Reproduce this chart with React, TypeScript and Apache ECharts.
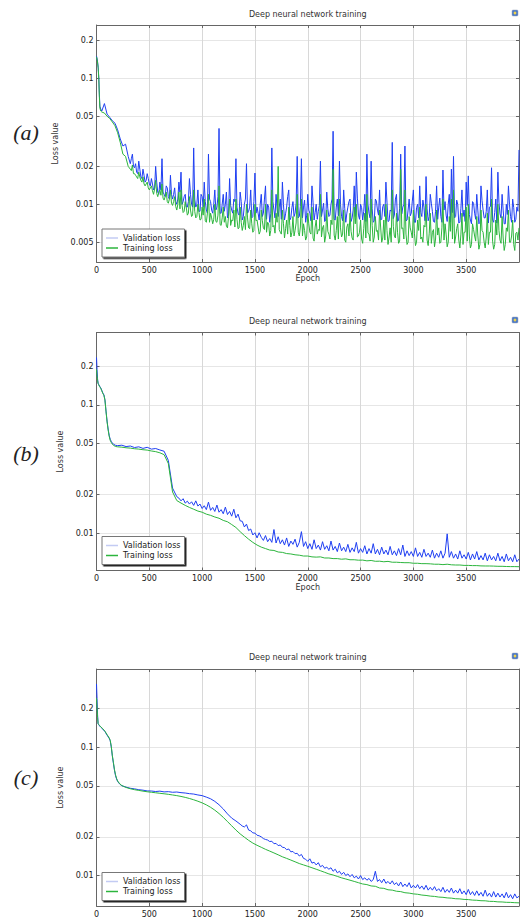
import { useEffect, useRef } from "react";
import * as echarts from "echarts";

// ---------- data (loss values are in units of 1e-3) ----------
const TITLE = "Deep neural network training";
const PANEL_LABELS = ["(a)", "(b)", "(c)"];
const SERIES_NAMES = ["Validation loss", "Training loss"];
const X_MAX = 4000;
const X_INTERVAL = 500;
const Y_TICKS_A = [0.2, 0.1, 0.05, 0.02, 0.01, 0.005];
const Y_TICKS_BC = [0.2, 0.1, 0.05, 0.02, 0.01];

// Panel (a): head epochs, then 50..300 every 25, then 320..4000 every 20,
// plus in-between readings at 330..3990 every 20
const aHeadEpochs = [0, 8, 16, 22, 27, 32, 40];
const aValHead = [150, 140, 122, 100, 75, 60, 57];
const aTrainHead = [148, 138, 120, 98, 72, 58, 55];
const aValEarly = [55, 63, 52, 49, 46, 44, 39, 33, 29, 30, 24];
const aTrainEarly = [54, 53, 50, 48, 45, 42, 37, 31, 25, 24, 20];
const aValLate = [
  21, 25, 19.5, 18, 22, 16.5, 19, 15, 17.5, 14.5,
  16, 13, 20, 12.5, 15, 23, 12, 14, 11.5, 17,
  11, 13.5, 10, 15, 18, 10.5, 12, 9.5, 16, 10,
  28, 9.5, 13, 8.8, 11.5, 15, 9, 25, 10.5, 8.5,
  13, 9.5, 40, 8.5, 12, 10, 7.8, 16, 9, 11,
  23, 8.5, 12.5, 7.5, 10, 21, 8.8, 13, 8, 17.7,
  9.5, 7.5, 12, 8.5, 14, 10, 7.2, 28, 9, 12,
  8, 11, 15, 7.5, 9.5, 13, 7.8, 10.5, 8.5, 24,
  8, 23, 9.5, 7.2, 12, 8.5, 14, 7.5, 10, 8.8,
  22, 9, 7.3, 12.5, 8, 10, 38, 7.5, 11, 22,
  8, 13, 7.2, 9.5, 11, 7.8, 14, 18, 8.2, 10,
  7.5, 12, 25, 8.5, 22, 7.2, 11, 9, 13, 7.6,
  10, 15, 7.3, 9, 31, 8.2, 12, 7.5, 25, 9.5,
  29, 7.5, 11, 8.5, 13, 7.2, 10, 14, 8, 9.5,
  16.6, 7.4, 12, 8.8, 7.2, 14, 9.5, 8, 18.7, 10.5,
  7.3, 12, 19, 24, 8, 10, 7.2, 13, 9, 15,
  16.8, 7.5, 10.5, 8.5, 12, 7, 14, 9, 7.8, 13,
  9.5, 19.5, 7.2, 11, 18, 8.4, 12, 7, 10, 14,
  8, 11, 7.2, 9.5, 27,
];
const aValMid = [
  23, 20, 21, 17.5, 19, 16, 17, 15.5, 16, 14,
  14.5, 13.5, 15, 12, 13, 12.5, 11.5, 13.5, 11, 12,
  12, 10.5, 11, 12.5, 10, 11.5, 9.5, 10.5, 12, 9.5,
  11, 10, 8.8, 12, 9.5, 10.5, 8.5, 11, 9, 10,
  9, 11.5, 8.5, 10, 8.8, 12.5, 8.2, 9.8, 8.5, 10.5,
  9.5, 8.2, 10.5, 8, 11, 8.5, 9.5, 7.8, 10.5, 8.5,
  8.5, 10, 8, 11, 7.6, 9.5, 8.4, 10.5, 7.8, 9.2,
  9.5, 7.6, 10, 8.4, 11.5, 7.5, 9.4, 8, 10.2, 7.8,
  9.6, 7.8, 10.8, 8.2, 9, 7.4, 10.4, 8.6, 7.6, 9.8,
  8, 10.2, 7.5, 9.2, 8.2, 11, 7.6, 9.5, 8.1, 10,
  7.4, 9.3, 8.5, 10.5, 7.3, 9, 8, 11.2, 7.6, 9.4,
  8.8, 7.3, 10, 7.8, 9.2, 7.4, 10.6, 8.2, 7.5, 9.6,
  8, 10.4, 7.4, 8.8, 7.7, 11, 7.3, 9.3, 8.4, 10,
  7.4, 9, 8.1, 10.6, 7.2, 9.4, 7.8, 8.6, 10.8, 7.4,
  9.2, 8, 10.2, 7.3, 8.8, 7.6, 11.2, 7.2, 9, 8.2,
  10, 7.2, 8.6, 7.8, 10.8, 7.1, 9.3, 8, 7.3, 9.8,
  8.3, 7, 10.2, 7.6, 9, 7.2, 10.7, 7.8, 8.8, 7.1,
  9.6, 7.5, 8.6, 7.1, 10.4, 7.8, 9, 7, 8.3, 10,
  7.2, 9.4, 7.6, 8.8,
];
const aTrainLate = [
  19, 20.5, 17.5, 16.5, 18, 15.5, 16.5, 14, 15, 13,
  14, 12, 15.5, 11.5, 13, 14.5, 10.8, 12.5, 10.2, 13,
  9.8, 11.5, 9, 12.5, 13, 8.6, 10.5, 8.2, 11.5, 8,
  13, 7.8, 10, 7.5, 9.5, 11, 7.2, 12, 8.5, 7,
  10, 7.2, 14, 6.8, 9.5, 8, 6.5, 11, 7.5, 9,
  11, 6.4, 9.5, 6.2, 8, 10, 6.5, 9, 6, 10,
  7.5, 5.8, 9, 6.5, 10, 7.2, 5.6, 13, 6.8, 8.5,
  20, 6, 9, 5.4, 7.5, 9.5, 5.5, 8, 6.2, 12,
  5.6, 11, 7, 5.2, 8.5, 6, 9.5, 5.1, 7.5, 6.3,
  12, 6.5, 5, 9, 5.8, 7.5, 19, 5.2, 8, 11,
  5.5, 9, 5, 7, 8.5, 5.4, 9.5, 10, 5.6, 7.5,
  4.9, 8.5, 12, 5.8, 11, 5, 8, 6.2, 9, 5,
  7.5, 10, 4.8, 6.5, 13, 5.6, 8.5, 4.9, 19, 6.5,
  13, 4.8, 8, 6, 9, 4.7, 7.5, 9.5, 5.5, 6.8,
  10, 4.7, 8.5, 6, 4.6, 9, 6.5, 5, 11, 7,
  4.6, 8, 11, 13, 5.5, 7, 4.5, 8.5, 6, 9.5,
  10, 4.5, 7, 5.6, 8, 4.4, 9, 6, 4.5, 8.5,
  6, 11, 4.4, 7.5, 10, 5.2, 8, 4.3, 6.5, 9,
  5, 7.5, 4.3, 6, 6.5,
];
const aTrainMid = [
  18.5, 17.5, 17, 16, 16.5, 15, 14.5, 14.5, 13.5, 13.5,
  12.8, 13.2, 12.2, 12.5, 11.8, 11.2, 11.5, 10.5, 11, 10.2,
  10.5, 9.6, 10, 9.2, 9.8, 8.8, 9.4, 8.5, 9, 8.2,
  8.8, 8, 8.6, 7.6, 8.2, 7.4, 8.5, 7.2, 7.8, 7.6,
  7.3, 8.2, 6.9, 7.8, 7.2, 6.7, 8, 6.8, 7.4, 6.6,
  7.6, 6.5, 7.2, 6.8, 6.3, 7.8, 6.4, 7, 6.2, 7.4,
  6.6, 6.1, 7.4, 6.3, 6, 7, 6.2, 6.6, 5.9, 7.2,
  6.3, 5.8, 7, 6.4, 5.8, 6.8, 6, 5.6, 7.1, 6,
  6.6, 5.6, 6.2, 5.5, 7, 5.8, 5.4, 6.6, 5.8, 6.2,
  5.5, 6.8, 5.6, 6.1, 5.3, 6.9, 5.7, 6.2, 5.3, 6.5,
  5.8, 5.2, 6.6, 5.6, 6.1, 5.2, 7, 5.5, 6, 5.3,
  6.4, 5.4, 5.9, 5.1, 6.8, 5.5, 6.1, 5.2, 6.6, 5.4,
  5.2, 6.2, 5.5, 5, 6.7, 5.4, 6, 5.1, 6.4, 5.3,
  5.8, 5, 6.5, 5.4, 5.9, 5, 6.2, 5.3, 5, 6.6,
  5.2, 5.9, 4.9, 6.3, 5.3, 5.7, 4.9, 6.5, 5.2, 5.8,
  5, 6.1, 5.3, 4.9, 6.4, 5.2, 5.8, 4.8, 6, 5.1,
  5.6, 4.8, 6.3, 5.1, 5.7, 4.8, 6.2, 5, 5.5, 4.8,
  6, 5.1, 4.8, 5.7, 6.2, 4.9, 5.4, 4.8, 6.1, 5,
  5.6, 4.8, 5.9, 5.2,
];

// Panel (b): head epochs, then 200..760 every 40, then 780..4000 every 20 (validation);
// training 200..4000 every 40
const bHeadEpochs = [0, 5, 10, 15, 20, 30, 40, 50, 60, 70, 80, 90, 100, 110, 120, 130, 140, 150, 160, 180];
const bValHead = [235, 190, 160, 148, 145, 140, 136, 130, 124, 120, 110, 90, 75, 65, 58, 54, 52, 50.5, 49.5, 48.5];
const bTrainHead = [190, 170, 155, 147, 144, 139, 135, 129, 123, 119, 109, 89, 74, 64, 57, 53, 51, 49.5, 48.5, 47.5];
const bValEarly = [48.2, 48.6, 47.4, 47.9, 46.6, 47.2, 45.9, 46.8, 45.3, 45.8, 44.6, 43.6, 37, 22.5, 19.3];
const bValLate = [
  18.8, 17.9, 18.6, 17.2, 17.8, 16.9, 17.6, 16.5, 17.9, 16.3,
  16.9, 15.6, 16.4, 15.3, 17.5, 15.1, 15.9, 14.8, 16.6, 14.6,
  15.3, 14.2, 16, 14, 14.8, 13.6, 15.4, 13.2, 14.1, 12.5,
  12.4, 11.2, 11.8, 10.5, 10.8, 9.7, 10.1, 9.2, 10.1, 9.3,
  8.8, 9.6, 8.6, 9.1, 8.5, 10.7, 8.4, 9.4, 8.3, 8.9,
  8.1, 9.2, 7.9, 8.7, 8.2, 9, 7.8, 8.5, 10.3, 7.9,
  8.6, 7.6, 8.3, 7.5, 8.9, 7.6, 8.1, 7.4, 8.6, 7.5,
  8, 7.3, 8.7, 7.4, 7.9, 7.2, 8.4, 7.3, 7.8, 7.2,
  8.2, 7.1, 7.7, 7.2, 8.5, 7, 7.6, 7.1, 8, 6.9,
  7.6, 7, 8.3, 6.9, 7.5, 6.8, 7.8, 6.9, 7.4, 6.8,
  7.9, 6.8, 7.3, 6.7, 7.6, 6.8, 8.1, 6.6, 7.3, 6.7,
  7.2, 6.6, 7.7, 6.6, 7.1, 6.5, 7.5, 6.6, 7, 6.5,
  7.4, 6.4, 7, 6.5, 7.3, 6.4, 7, 9.9, 6.5, 7.2,
  6.4, 6.9, 6.3, 7.3, 6.4, 6.8, 6.3, 7.1, 6.2, 6.9,
  6.3, 7.2, 6.2, 6.7, 6.2, 7, 6.1, 6.8, 6.2, 6.6,
  6.1, 7, 6.1, 6.6, 6, 6.9, 6.1, 6.5, 6, 6.8,
  6, 6.3,
];
const bTrainBody = [
  47.2, 46.9, 46.4, 46.1, 45.6, 45.3, 44.8, 44.5,
  43.8, 43.3, 42.4, 41, 35, 21, 18, 17.2,
  16.5, 15.9, 15.4, 14.9, 14.6, 14.1, 13.8, 13.4,
  13.1, 12.6, 12.3, 11.7, 11.1, 10.3, 9.6, 9,
  8.5, 8.1, 7.8, 7.6, 7.4, 7.35, 7.15, 7.1,
  6.95, 6.9, 6.8, 6.75, 6.65, 6.65, 6.55, 6.52,
  6.55, 6.42, 6.42, 6.35, 6.35, 6.28, 6.32, 6.22,
  6.22, 6.17, 6.18, 6.1, 6.14, 6.05, 6.06, 6,
  6.04, 5.95, 5.95, 5.92, 5.9, 5.9, 5.84, 5.84,
  5.8, 5.8, 5.78, 5.74, 5.74, 5.7, 5.74, 5.68,
  5.66, 5.66, 5.62, 5.62, 5.6, 5.6, 5.57, 5.56,
  5.56, 5.55, 5.53, 5.53, 5.51, 5.5, 5.5, 5.49,
];

// Panel (c): head epochs, then 280..1360 every 40, then 1380..4000 every 20 (validation);
// training 280..4000 every 40
const cHeadEpochs = [0, 5, 10, 15, 20, 30, 40, 60, 80, 100, 120, 130, 140, 150, 160, 170, 180, 190, 200, 220, 240];
const cValHead = [310, 240, 180, 152, 150, 146, 143, 138, 132, 124, 117, 112, 100, 85, 75, 66, 60, 56.5, 54, 51.5, 50];
const cTrainHead = [240, 205, 170, 153, 150, 147, 144, 139, 133, 125, 118, 113, 101, 86, 76, 67, 61, 57, 54.5, 51.8, 50.2];
const cValEarly = [
  48.8, 47.8, 47.3, 46.6, 46.2, 45.6, 45.5, 45.1,
  45.4, 44.8, 45, 44.5, 44.7, 44.2, 43.9, 43.4,
  43.1, 42.4, 41.9, 40.8, 39.6, 37.8, 35.6, 33,
  30.2, 28, 26.6, 25.1,
];
const cValLate = [
  24.3, 23.9, 24.8, 22.6, 22.3, 21.5, 21.4, 20.6, 20.4, 20,
  19.4, 19.1, 18.9, 18.4, 18.5, 17.7, 17.8, 17.1, 17.3, 16.6,
  16.5, 15.9, 16.1, 15.3, 15.4, 14.8, 14.9, 14.2, 14.6, 13.6,
  13.4, 12.9, 13.5, 12.5, 12.7, 12.1, 12.6, 11.7, 12, 11.4,
  11.6, 11.2, 11.5, 10.8, 11.2, 10.5, 10.8, 10.2, 10.6, 10,
  10.3, 9.8, 10.2, 9.6, 9.9, 9.4, 10, 9.3, 9.6, 9.2,
  9.5, 9, 9.3, 10.8, 9, 9.3, 8.8, 9.4, 8.7, 9,
  8.6, 9.1, 8.5, 8.8, 8.3, 8.9, 8.2, 8.6, 8.2, 8.8,
  8, 8.4, 8, 8.5, 7.9, 8.3, 7.8, 8.4, 7.7, 8.1,
  7.7, 8.2, 7.6, 7.9, 7.5, 8.1, 7.4, 7.8, 7.4, 8,
  7.3, 7.7, 7.3, 7.9, 7.2, 7.6, 7.1, 7.8, 7.1, 7.5,
  7, 7.6, 7, 7.4, 6.9, 7.7, 6.9, 7.3, 6.8, 7.5,
  6.8, 7.3, 6.8, 7.2, 6.7, 7.4, 6.7, 7.1, 6.6, 7.2,
  6.7, 6.9,
];
const cTrainBody = [
  48.5, 47.4, 46.6, 46, 45.4, 44.9, 44.5, 44.1,
  43.7, 43.3, 42.9, 42.4, 41.9, 41.3, 40.6, 39.8,
  38.9, 37.9, 36.8, 35.5, 34, 32.3, 30.4, 28.4,
  26.3, 24.4, 22.6, 21.1, 19.9, 18.8, 17.9, 17.2,
  16.6, 16, 15.5, 15, 14.5, 14, 13.6, 13.2,
  12.8, 12.4, 12.1, 11.8, 11.5, 11.2, 10.9, 10.6,
  10.3, 10.1, 9.85, 9.6, 9.4, 9.2, 9, 8.8,
  8.6, 8.5, 8.3, 8.25, 8, 7.95, 7.75, 7.7,
  7.55, 7.5, 7.35, 7.3, 7.2, 7.15, 7.05, 7.0,
  6.92, 6.88, 6.8, 6.77, 6.7, 6.67, 6.6, 6.58,
  6.52, 6.5, 6.44, 6.42, 6.37, 6.36, 6.3, 6.29,
  6.24, 6.23, 6.19, 6.18, 6.15, 6.13,
];

// ---------- helpers ----------
const toLog = (milli: number) => Math.log10(milli * 1e-3);

type Segment = [number, number, number[]]; // [first epoch, last epoch, readings evenly spaced]

function buildPoints(headEpochs: number[], headVals: number[], segments: Segment[]) {
  const pts: number[][] = headEpochs.map((e, i) => [e, toLog(headVals[i])]);
  segments.forEach(([start, end, vals]) => {
    const step = (end - start) / (vals.length - 1);
    vals.forEach((v, i) => pts.push([start + i * step, toLog(v)]));
  });
  pts.sort((p, q) => p[0] - q[0]);
  return pts;
}

const FONT = "DejaVu Sans";
const FRAME = "#666";
const COLOR_VAL = "#1f3ff2";
const COLOR_TRAIN = "#2cb53d";
const COLOR_VAL_LEGEND = "#c3cbf3";

const PANELS = [
  {
    top: 25, height: 237, yMin: -2.458, yMax: -0.577, ticks: Y_TICKS_A, epoch: true,
    legendTop: 229, titleY: 14, labelY: 132,
    val: buildPoints(aHeadEpochs, aValHead, [[50, 300, aValEarly], [320, X_MAX, aValLate], [330, 3990, aValMid]]),
    train: buildPoints(aHeadEpochs, aTrainHead, [[50, 300, aTrainEarly], [320, X_MAX, aTrainLate], [330, 3990, aTrainMid]]),
  },
  {
    top: 332.5, height: 238, yMin: -2.29, yMax: -0.435, ticks: Y_TICKS_BC, epoch: true,
    legendTop: 536.5, titleY: 321, labelY: 453,
    val: buildPoints(bHeadEpochs, bValHead, [[200, 760, bValEarly], [780, X_MAX, bValLate]]),
    train: buildPoints(bHeadEpochs, bTrainHead, [[200, X_MAX, bTrainBody]]),
  },
  {
    top: 669, height: 237.5, yMin: -2.237, yMax: -0.392, ticks: Y_TICKS_BC, epoch: false,
    legendTop: 872.5, titleY: 657, labelY: 777,
    val: buildPoints(cHeadEpochs, cValHead, [[280, 1360, cValEarly], [1380, X_MAX, cValLate]]),
    train: buildPoints(cHeadEpochs, cTrainHead, [[280, X_MAX, cTrainBody]]),
  },
];

const GRID_LEFT = 96.5;
const GRID_WIDTH = 422.5;

function buildOption() {
  const grid: any[] = [];
  const xAxis: any[] = [];
  const yAxis: any[] = [];
  const series: any[] = [];
  const legend: any[] = [];
  const graphic: any[] = [];
  const labelStyle = { fontSize: 8, fontFamily: FONT, color: "#222" };

  PANELS.forEach((p, i) => {
    grid.push({ left: GRID_LEFT, width: GRID_WIDTH, top: p.top, height: p.height });
    const tickLogs = p.ticks.map((t) => Math.log10(t));
    xAxis.push({
      type: "value", gridIndex: i, min: 0, max: X_MAX, interval: X_INTERVAL, position: "bottom",
      axisLine: { show: true, onZero: false, lineStyle: { color: FRAME, width: 1 } },
      axisTick: { show: true, inside: true, length: 3, lineStyle: { color: FRAME } },
      axisLabel: { ...labelStyle, margin: 4, showMaxLabel: false, formatter: (v: number) => (v >= X_MAX ? "" : String(v)) },
      splitLine: { show: true, lineStyle: { color: "#d8d8d8", width: 1 } },
      name: p.epoch ? "Epoch" : "", nameLocation: "middle", nameGap: 10,
      nameTextStyle: { fontSize: 8, fontFamily: FONT, color: "#333" },
    });
    xAxis.push({
      type: "value", gridIndex: i, min: 0, max: X_MAX, interval: X_INTERVAL, position: "top",
      axisLine: { show: true, onZero: false, lineStyle: { color: FRAME, width: 1 } },
      axisTick: { show: true, inside: true, length: 3, lineStyle: { color: FRAME } },
      axisLabel: { show: false }, splitLine: { show: false },
    });
    yAxis.push({
      type: "value", gridIndex: i, min: p.yMin, max: p.yMax, position: "left",
      axisLine: { show: true, onZero: false, lineStyle: { color: FRAME, width: 1 } },
      axisTick: { show: true, inside: true, length: 3, customValues: tickLogs, lineStyle: { color: FRAME } },
      axisLabel: {
        ...labelStyle, margin: 3, customValues: tickLogs,
        formatter: (v: number) => String(Number(Math.pow(10, v).toPrecision(1))),
      },
      splitLine: { show: true, lineStyle: { color: "#e6e6e6", width: 1 } },
      name: "Loss value", nameLocation: "middle", nameGap: 31, nameRotate: 90,
      nameTextStyle: { fontSize: 8, fontFamily: FONT, color: "#333" },
    });
    yAxis.push({
      type: "value", gridIndex: i, min: p.yMin, max: p.yMax, position: "right",
      axisLine: { show: true, onZero: false, lineStyle: { color: FRAME, width: 1 } },
      axisTick: { show: true, inside: true, length: 3, customValues: tickLogs, lineStyle: { color: FRAME } },
      axisLabel: { show: false }, splitLine: { show: false },
    });
    series.push({
      type: "line", name: SERIES_NAMES[0], xAxisIndex: 2 * i, yAxisIndex: 2 * i,
      data: p.val, symbol: "none", showSymbol: false, silent: true, z: 2,
      lineStyle: { color: COLOR_VAL, width: 1 }, itemStyle: { color: COLOR_VAL },
    });
    series.push({
      type: "line", name: SERIES_NAMES[1], xAxisIndex: 2 * i, yAxisIndex: 2 * i,
      data: p.train, symbol: "none", showSymbol: false, silent: true, z: 3,
      lineStyle: { color: COLOR_TRAIN, width: 1 }, itemStyle: { color: COLOR_TRAIN },
    });
    legend.push({
      orient: "vertical", left: 102, top: p.legendTop, selectedMode: false,
      data: [
        { name: SERIES_NAMES[0], itemStyle: { color: COLOR_VAL_LEGEND }, lineStyle: { color: COLOR_VAL_LEGEND } },
        { name: SERIES_NAMES[1], itemStyle: { color: COLOR_TRAIN }, lineStyle: { color: COLOR_TRAIN } },
      ],
      icon: "rect", itemWidth: 12, itemHeight: 1.5, itemGap: 0,
      padding: [4, 4, 4, 4],
      backgroundColor: "#fff", borderColor: "#777", borderWidth: 1,
      shadowColor: "rgba(0,0,0,0.85)", shadowBlur: 0, shadowOffsetX: 1.5, shadowOffsetY: 1.5,
      textStyle: { fontSize: 8, fontFamily: FONT, color: "#222", lineHeight: 10 },
    });
    graphic.push({
      type: "text", x: GRID_LEFT + GRID_WIDTH / 2, y: p.titleY,
      style: { text: TITLE, fontSize: 8, fontFamily: FONT, fill: "#333", align: "center", verticalAlign: "middle" },
    });
    graphic.push({
      type: "text", x: 26, y: p.labelY,
      style: {
        text: PANEL_LABELS[i], fontSize: 22, fontStyle: "italic", fontFamily: "Liberation Serif",
        fill: "#222", align: "center", verticalAlign: "middle",
      },
    });
    graphic.push({
      type: "group", x: 512, y: p.titleY - 4,
      children: [
        { type: "rect", shape: { x: 0, y: 0, width: 6, height: 6, r: 1 }, style: { fill: "#4a78c8", stroke: "#9aa6bb", lineWidth: 0.5 } },
        { type: "circle", shape: { cx: 3, cy: 3, r: 1.4 }, style: { fill: "#f0d24a" } },
      ],
    });
  });

  return { animation: false, grid, xAxis, yAxis, series, legend, graphic };
}

export default function App() {
  const ref = useRef<HTMLDivElement>(null);
  useEffect(() => {
    if (!ref.current) return;
    const chart = echarts.init(ref.current, null, { renderer: "svg" });
    chart.setOption(buildOption() as any);
    return () => chart.dispose();
  }, []);
  return (
    <div
      ref={ref}
      style={{ position: "absolute", left: 0, top: 0, width: 520, height: 918, background: "#fff" }}
    />
  );
}
